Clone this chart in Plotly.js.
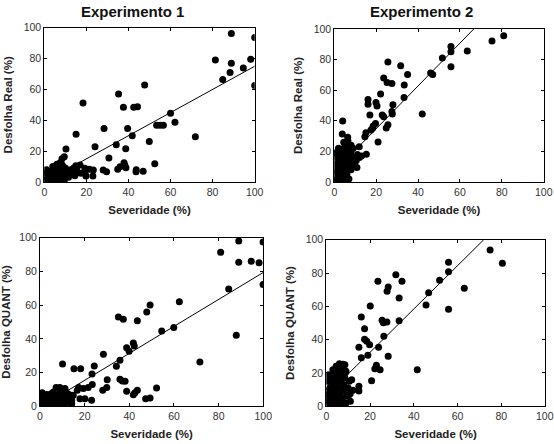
<!DOCTYPE html>
<html><head><meta charset="utf-8">
<script src="https://cdn.plot.ly/plotly-3.0.1.min.js"></script>
<style>html,body{margin:0;padding:0;background:#fff;overflow:hidden}#chart{width:554px;height:444px}</style>
</head><body><div id="chart"></div>
<script>
// Experimento 1 - Desfolha Real
const exp1RealX = [88.9,100,81.3,88.9,98.1,94.6,88.3,84.8,100,47.7,35.3,18.4,37.6,42.5,44.3,60,62.1,53.4,55,56.6,39.6,28.4,71.8,41.8,15.1,49.9,34.2,24.1,10.3,38.7,30.7,9.5,8.4,52.5,37.9,38.3,38.8,36,17,34.9,43.7,43.6,47,28,29.6,21.4,23.3,23.1,19.3,19.3,19.8,14.6,15.4,17.4,
  0.5,0.8,1,1.5,2,2.5,3,3.5,4,4.5,5,5,5.5,6,6,6.5,7,7,7.5,8,8,8.5,9,9.5,10,10,11,11.5,12,12.5,13,14,14.5,15,16,2,3,4,6,7.5,4,1];
const exp1RealY = [96.3,93.7,79,76.9,79.5,73.9,71,66.5,62.6,62.9,57,51.2,48.4,48.4,48.8,44.5,38.7,36.7,36.7,36.7,34.6,34.6,29.4,30,30.9,26.3,24.2,22.9,21.4,21.6,15.6,16.4,15.1,11.9,12.5,10.8,9.3,9.9,11,8.2,8,6.7,6.9,7.8,6.7,8.2,7.8,3.9,8.9,5.6,3.9,5.6,7.8,5.6,
  1,4,6,2,5,3,7,1,4,8,2,6,9,0.5,4,7,10,2,5,8,3,11,6,1,4,9,7,3,5,8,6,9,4,10.5,6,3.5,0.5,2,11.5,12.5,10,8];
// Experimento 2 - Desfolha Real
const exp2RealX = [80.9,75.3,55.7,55.7,63.5,51.6,55.7,25.6,31.7,46,47,35,23.6,25.2,27.5,33.4,22.1,16.1,16.1,19.9,20.4,28,33.3,17,22.9,23.6,27.5,27.7,42,18.6,19.7,18.3,17.5,25.6,24.8,15.1,14.6,20.9,4,3.8,6.4,11.9,15.3,10.8,
  0.3,0.5,0.8,1,1,1.2,1.5,1.8,2,2,2.2,2.5,2.8,3,3,3.2,3.5,3.8,4,4,4.2,4.5,4.8,5,5,5.2,5.5,5.8,6,6,6.3,6.5,6.8,7,7,7.5,7.8,8,8.3,8.5,9,9.5,10,10.5,11,12,13,4.5,6.5,0.5,2,8,3,1,9,5];
const exp2RealY = [95.6,92.2,88.5,85.2,85.6,81,75.4,78.4,76,71.2,70.2,70.2,68,65.1,64.3,63.4,57.5,54,50.8,51.9,49.7,50.5,55.3,43.8,43.8,42.7,46,44.4,44.4,36.6,38.3,35.1,34,37.5,35.3,32.2,29.6,26.1,39.9,31.4,29.2,23.1,18.1,9.4,
  1,4,8,12,16,19,2,6,10,14,18,3,7,11,15,20,1,5,9,13,17,22,3,7,11,15,19,24,5,9,13,17,21,2,11,15,19,8,13,17,22,12,16,14,18,16,17,26,27,19,22,24,4,0.5,10,1];
// Experimento 1 - Desfolha QUANT
const exp1QuantX = [99.9,89,80.9,89,94.6,98.1,99.9,84.5,87.9,71.6,62.4,59.9,54.5,49.3,47.8,43.6,35.1,37.3,41.8,42.2,38.8,39.9,35.8,34.2,28.4,24.3,23.3,10.1,15.2,18.2,30.1,35.8,36.9,38.1,29.9,28.1,23.4,21.6,19.4,38.8,42.5,43.6,41.8,52.2,47.3,49.3,23.1,17.9,20.1,17.3,16.7,14.9,14.2,14.2,7.2,8.9,11.2,11.9,
  0.3,0.5,0.8,1,1.5,2,2,2.5,3,3.5,4,4.5,5,5.5,6,6.5,7,7.5,8,8.5,9,9.5,10,10.5,11,12,12.5,13,13.5,14,1,3,5,0.5,7,9,11,6];
const exp1QuantY = [97.4,98,91.3,85.4,86,85.2,72.3,69.6,42.1,26.3,62,46.8,44.7,60.1,55.9,50.8,53,51.6,37.5,35.8,34.8,32.6,27.3,23.7,30.8,23.9,19.2,25.1,22.3,22.3,15.8,16,15,14.8,11.1,9.5,13,11.1,10.5,8.9,8.1,9.5,6.9,10.9,4.5,4.9,3.6,4.5,4.5,11.1,9.5,6.5,3.6,1.6,11.1,11.1,10.5,8.1,
  1,4,7,2,5,0.5,3,6,1.5,4,2.5,6,1,3.5,5,2,4,6.5,1,3,5,2,7,4,1.5,5,2.5,7,4,1,8,7,7.5,6,0.5,8,9,8.5];
// Experimento 2 - Desfolha QUANT
const exp2QuantX = [74.9,80.5,55.9,55.9,51.8,63.1,55.9,45.6,46.8,31.8,23.6,34.6,28.3,27.8,33.3,20.1,16,25.5,26.1,27.7,33.3,17.5,26.3,17.5,18.5,19.8,14.9,23.9,19,16,28.3,22.9,22.2,24.6,41.6,20.7,11.6,14.9,14.9,12.2,10.9,7.6,5.3,3.8,8.7,
  0.3,0.5,0.8,1,1.2,1.5,1.8,2,2,2.5,2.8,3,3.2,3.5,3.8,4,4,4.5,4.8,5,5.5,5.8,6,6.2,6.5,6.8,7,7.2,7.5,7.8,8,8.5,9,9,9.5,10,10.5,0.5,1,2,3,4.5,6,8.5,2,6,8,11,10];
const exp2QuantY = [93.8,85.8,86.4,80.8,75.6,70.8,58.2,60.8,68.2,79,75,75,71.6,69,65,60.2,53.6,51.6,50.2,50.6,51.4,46.6,42,40.2,39,37,35.4,35.4,30.6,29.2,30,24.6,22.6,22,22,15.4,16,12,9.2,9.6,7.6,25.2,24,20.2,20.2,
  1,5,9,3,7,11,1,5,9,13,3,7,11,15,19,1,5,9,13,17,21,3,7,11,15,19,23,1,5,9,13,17,21,2,7,11,15,15,19,17,22,24,25.5,25,0.5,0.5,1.5,3,6];
// Regression lines (endpoints)
const fit1RealX = [0, 100], fit1RealY = [0, 75];
const fit2RealX = [0, 66.6], fit2RealY = [6.8, 100];
const fit1QuantX = [0, 100], fit1QuantY = [-0.6, 79.4];
const fit2QuantX = [0, 72], fit2QuantY = [6.4, 100];
// Tick values
const tickValsFull = [0, 20, 40, 60, 80, 100];
const tickValsRightEdge = [0, 20, 40, 60, 80];   // "100" of right-hand panels drawn as an axis-referenced annotation

const W = 554, H = 444;
const FONT = 'Arial, Liberation Sans, sans-serif';
const mk = {color: '#000', size: 7};
function pts(x, y, n) {
  return {x: x, y: y, type: 'scatter', mode: 'markers', marker: mk, xaxis: 'x' + (n === 1 ? '' : n), yaxis: 'y' + (n === 1 ? '' : n), showlegend: false, hoverinfo: 'x+y'};
}
function ln(x, y, n) {
  return {x: x, y: y, type: 'scatter', mode: 'lines', line: {color: '#000', width: 1}, xaxis: 'x' + (n === 1 ? '' : n), yaxis: 'y' + (n === 1 ? '' : n), showlegend: false, hoverinfo: 'skip'};
}
const data = [
  pts(exp1RealX, exp1RealY, 1), ln(fit1RealX, fit1RealY, 1),
  pts(exp2RealX, exp2RealY, 2), ln(fit2RealX, fit2RealY, 2),
  pts(exp1QuantX, exp1QuantY, 3), ln(fit1QuantX, fit1QuantY, 3),
  pts(exp2QuantX, exp2QuantY, 4), ln(fit2QuantX, fit2QuantY, 4)
];
const tickFont = {family: FONT, size: 10.5, color: '#333'};
const titleFont = {family: FONT, size: 11.5, color: '#222', weight: 'bold'};
function ax(domain, anchor, title, standoff, tickvals) {
  return {
    domain: domain, anchor: anchor, range: [0, 100], tickmode: 'array', tickvals: tickvals,
    showgrid: false, zeroline: false, showline: true, mirror: 'ticks',
    linecolor: '#000', linewidth: 1, ticks: 'inside', ticklen: 3, tickcolor: '#000',
    tickfont: tickFont, fixedrange: true, ticklabeloverflow: 'allow',
    title: {text: title, font: titleFont, standoff: standoff}
  };
}
const px = (a, b) => [a / W, b / W];
const py = (top, bot) => [1 - bot / H, 1 - top / H];
function edgeLabel(xref, yPix) {
  return {text: '100', x: 100, xref: xref, y: 1 - yPix / H, yref: 'paper', xanchor: 'center', yanchor: 'middle',
          showarrow: false, font: tickFont};
}
const layout = {
  width: W, height: H, margin: {l: 0, r: 0, t: 0, b: 0}, showlegend: false,
  paper_bgcolor: '#fff', plot_bgcolor: '#fff',
  font: {family: FONT},
  xaxis: ax(px(44.3, 254.7), 'y', 'Severidade (%)', 9, tickValsFull),
  yaxis: ax(py(27.7, 182), 'x', 'Desfolha Real (%)', 8, tickValsFull),
  xaxis2: ax(px(334.3, 543.7), 'y2', 'Severidade (%)', 9, tickValsRightEdge),
  yaxis2: ax(py(29, 182), 'x2', 'Desfolha Real (%)', 8, tickValsFull),
  xaxis3: ax(px(40, 263.3), 'y3', 'Severidade (%)', 9, tickValsFull),
  yaxis3: ax(py(237.7, 406.3), 'x3', 'Desfolha QUANT (%)', 8, tickValsFull),
  xaxis4: ax(px(326.3, 545), 'y4', 'Severidade (%)', 9, tickValsRightEdge),
  yaxis4: ax(py(239.7, 406.3), 'x4', 'Desfolha QUANT (%)', 8, tickValsFull),
  annotations: [
    {text: 'Experimento 1', x: 132 / W, y: 1 - 12 / H, xref: 'paper', yref: 'paper', xanchor: 'center', yanchor: 'middle', showarrow: false,
     font: {family: FONT, size: 15, color: '#111', weight: 'bold'}},
    {text: 'Experimento 2', x: 421 / W, y: 1 - 12 / H, xref: 'paper', yref: 'paper', xanchor: 'center', yanchor: 'middle', showarrow: false,
     font: {family: FONT, size: 15, color: '#111', weight: 'bold'}},
    edgeLabel('x2', 191.5),
    edgeLabel('x4', 415.8)
  ]
};
Plotly.newPlot('chart', data, layout, {displayModeBar: false, staticPlot: true});
</script></body></html>
